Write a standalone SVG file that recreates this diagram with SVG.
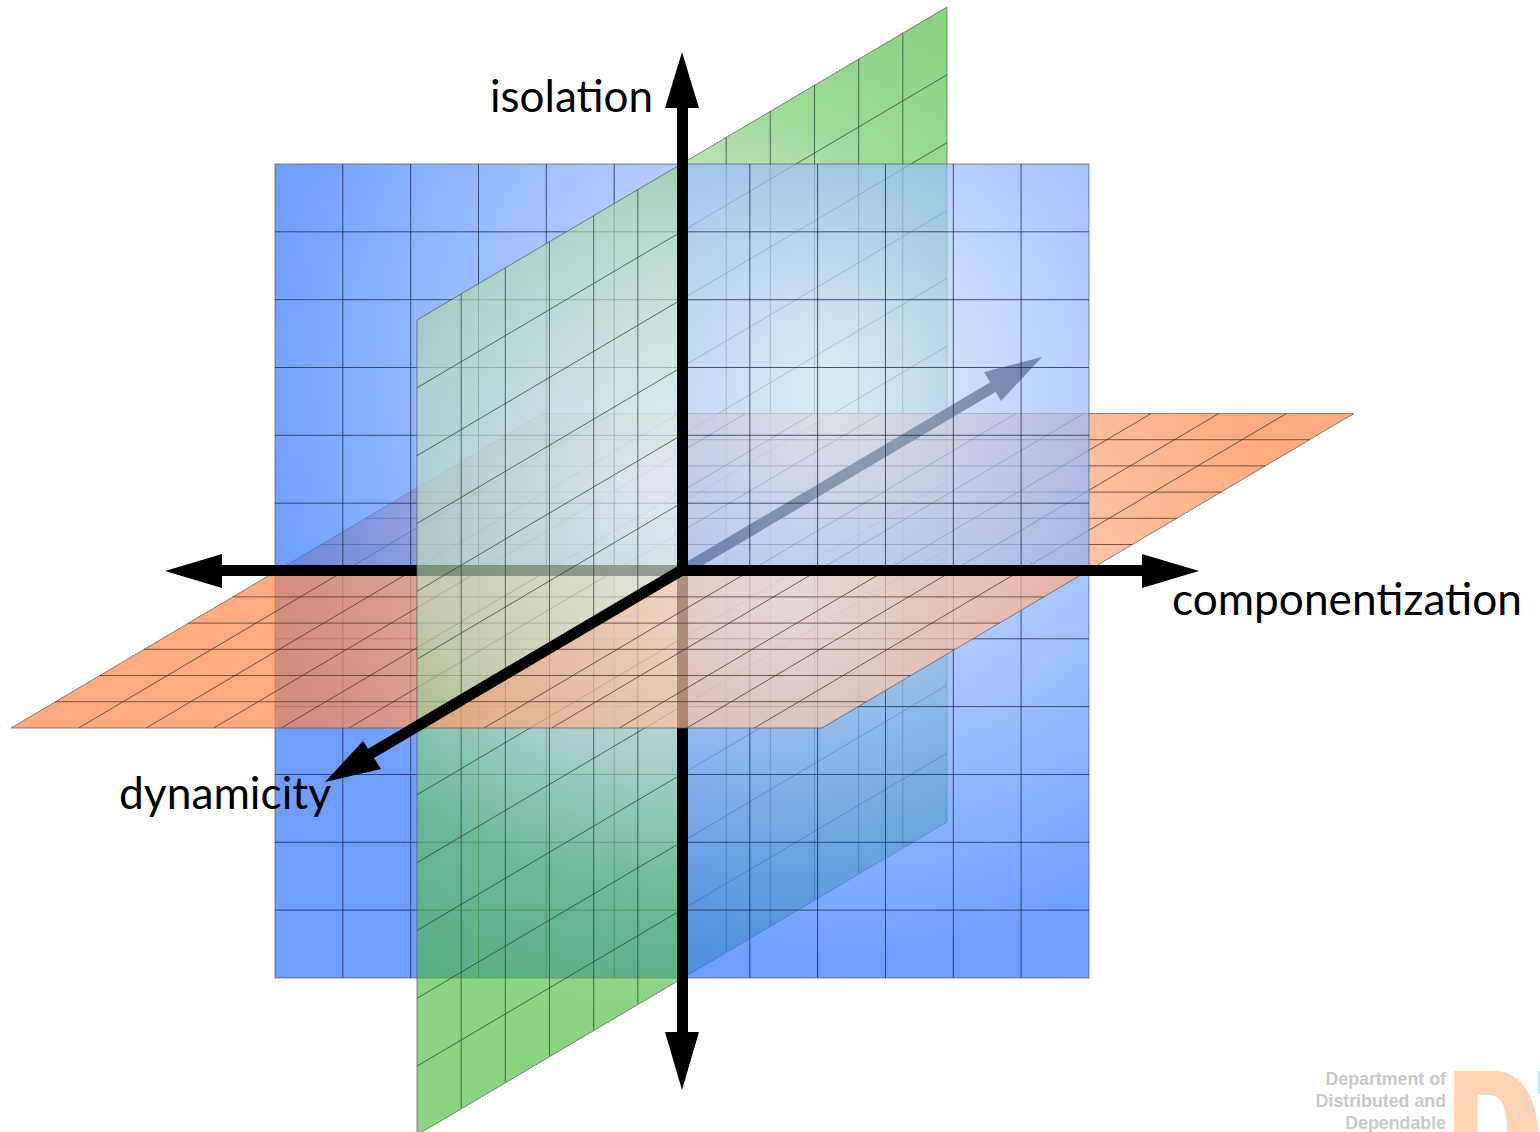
<svg xmlns="http://www.w3.org/2000/svg" xmlns:xlink="http://www.w3.org/1999/xlink" width="1540" height="1132" viewBox="0 0 1540 1132">
<style>
.grid{fill:none;stroke-width:1}
.blue-grid{stroke:#16264a;stroke-opacity:.75}
.green-grid{stroke:#1f3d28;stroke-opacity:.7}
.orange-grid{stroke:#4a3026;stroke-opacity:.75}
.edge{stroke:#555;stroke-opacity:.7;stroke-width:1}
.axis{fill:none;stroke:#000;stroke-width:11}
.head{fill:#000;stroke:none}
.label{font-family:Lato,"Open Sans","Liberation Sans",sans-serif;font-size:44px;fill:#000}
.logo{font-family:"Liberation Sans",Arial,sans-serif;font-size:17.8px;font-weight:700;fill:#c9c9c9;text-anchor:end}
</style>
<defs>
<radialGradient id="gBlue" gradientUnits="userSpaceOnUse" cx="830" cy="385" r="585">
<stop offset="0" stop-color="rgb(218,236,250)" stop-opacity=".7"/>
<stop offset=".5" stop-color="rgb(138,178,255)" stop-opacity=".7"/>
<stop offset="1" stop-color="rgb(48,116,255)" stop-opacity=".7"/>
</radialGradient>
<radialGradient id="gGreen" gradientUnits="userSpaceOnUse" cx="660" cy="490" r="530">
<stop offset="0" stop-color="rgb(242,248,246)" stop-opacity=".65"/>
<stop offset=".5" stop-color="rgb(182,222,180)" stop-opacity=".65"/>
<stop offset=".75" stop-color="rgb(105,198,98)" stop-opacity=".65"/>
<stop offset="1" stop-color="rgb(78,187,66)" stop-opacity=".65"/>
</radialGradient>
<radialGradient id="gOrange" gradientUnits="userSpaceOnUse" cx="790" cy="600" r="490">
<stop offset="0" stop-color="rgb(250,222,204)" stop-opacity=".7"/>
<stop offset="1" stop-color="rgb(255,135,74)" stop-opacity=".7"/>
</radialGradient>
<clipPath id="cGreenBack"><rect x="682" y="0" width="300" height="1132"/></clipPath>
<clipPath id="cGreenFront"><rect x="400" y="0" width="277" height="1132"/></clipPath>
<clipPath id="cOrangeBack"><rect x="200" y="400" width="1180" height="171"/></clipPath>
<clipPath id="cOrangeLeft"><polygon points="0,729 416,729 682,571 200,571"/></clipPath>
<clipPath id="cOrangeRight"><polygon points="416,729 823,729 1090,571 682,571"/></clipPath>
<g id="greenPlane">
<polygon points="417,320 947,7 947,822 417,1135" fill="url(#gGreen)" class="edge"/>
<path class="grid green-grid" d="M461.2 293.9v814M505.3 267.8v814M549.5 241.7v814M593.7 215.7v814M637.8 189.6v814M682 163.5v814M726.2 137.4v814M770.3 111.3v814M814.5 85.3v814M858.7 59.2v814M902.8 33.1v814M417 387.8l530-313M417 455.7l530-313M417 523.5l530-313M417 591.3l530-313M417 659.2l530-313M417 727l530-313M417 794.8l530-313M417 862.6l530-313M417 930.5l530-313M417 998.3l530-313M417 1066.1l530-313"/>
</g>
<g id="orangePlane">
<polygon points="543,413.5 1354,413.5 822,728 11,728" fill="url(#gOrange)" class="edge"/>
<path class="grid orange-grid" d="M498.7 439.7h811M454.3 465.9h811M410 492.1h811M365.7 518.3h811M321.3 544.5h811M277 570.7h811M232.7 596.9h811M188.3 623.1h811M144 649.3h811M99.7 675.5h811M55.3 701.7h811M78.6 728l532-314.5M146.2 728l532-314.5M213.7 728l532-314.5M281.3 728l532-314.5M348.9 728l532-314.5M416.5 728l532-314.5M484.1 728l532-314.5M551.7 728l532-314.5M619.2 728l532-314.5M686.8 728l532-314.5M754.4 728l532-314.5"/>
</g>
</defs>

<g id="plane-green-back" clip-path="url(#cGreenBack)"><use href="#greenPlane"/></g>
<g id="plane-orange-back" clip-path="url(#cOrangeBack)"><use href="#orangePlane"/></g>
<g id="axis-back">
<path class="axis" d="M682 571L1005 380"/>
<polygon class="head" points="1042,357 984,372 1001,401"/>
</g>
<g id="plane-blue">
<rect x="275" y="164" width="814" height="814" fill="url(#gBlue)" class="edge"/>
<path class="grid blue-grid" d="M342.8 164v814M410.7 164v814M478.5 164v814M546.3 164v814M614.2 164v814M682 164v814M749.8 164v814M817.6 164v814M885.5 164v814M953.3 164v814M1021.1 164v814M275 231.8h814M275 299.7h814M275 367.5h814M275 435.3h814M275 503.2h814M275 571h814M275 638.8h814M275 706.6h814M275 774.5h814M275 842.3h814M275 910.1h814"/>
</g>
<g id="plane-orange-left" clip-path="url(#cOrangeLeft)"><use href="#orangePlane"/></g>
<g id="axes-under">
<path class="axis" d="M682.5 570.5H210"/>
<polygon class="head" points="165,571 222,554 222,588"/>
<path class="axis" d="M682.5 570V1045"/>
<polygon class="head" points="682,1090 665,1032 699,1032"/>
</g>
<g id="plane-green-front" clip-path="url(#cGreenFront)"><use href="#greenPlane"/></g>
<g id="plane-orange-right" clip-path="url(#cOrangeRight)"><use href="#orangePlane"/></g>
<g id="axes-over">
<path class="axis" d="M682.5 576V95"/>
<polygon class="head" points="682,52 665,108 699,108"/>
<path class="axis" d="M677 570.5H1155"/>
<polygon class="head" points="1199,571 1142,554 1142,588"/>
<path class="axis" d="M682 570L365 757"/>
<polygon class="head" points="325,782 363,741 381,769"/>
</g>
<g id="labels">
<text class="label" x="490" y="112" textLength="163" lengthAdjust="spacingAndGlyphs">isolation</text>
<text class="label" x="1172" y="615" textLength="350" lengthAdjust="spacingAndGlyphs">componentization</text>
<text class="label" x="119" y="809" textLength="212" lengthAdjust="spacingAndGlyphs">dynamicity</text>
</g>
<g id="logo">
<text class="logo" x="1446" y="1085">Department of</text>
<text class="logo" x="1446" y="1107">Distributed and</text>
<text class="logo" x="1446" y="1129">Dependable</text>
<path d="M1454 1071H1495C1522 1071 1537 1100 1538 1132H1507C1507 1112 1503 1095 1490 1095H1478V1132H1454Z" fill="#ffd3b6"/>
<rect x="1538" y="1071" width="2" height="23" fill="#bfe8fb"/>
</g>
</svg>
